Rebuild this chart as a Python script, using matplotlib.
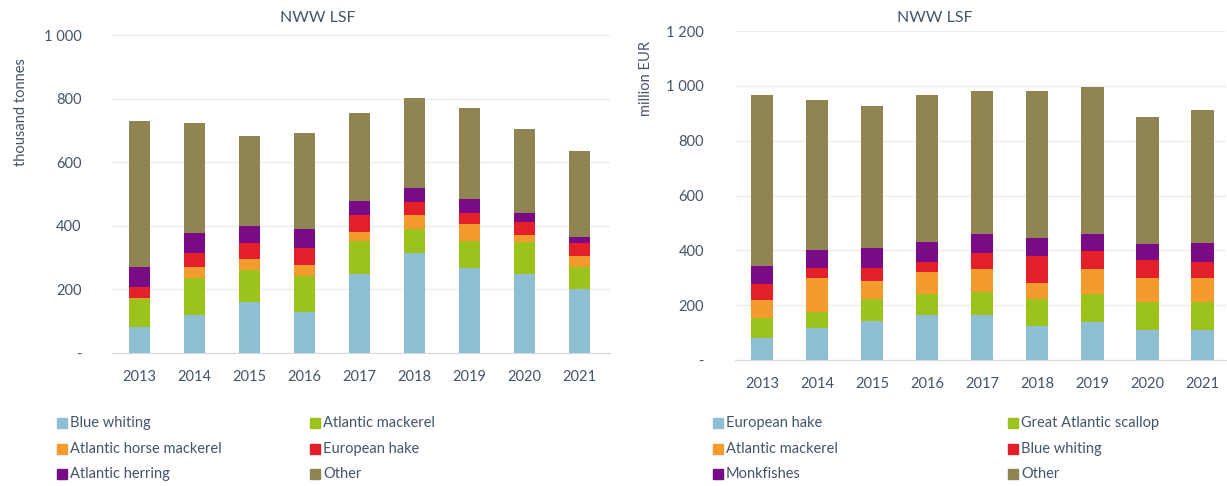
import matplotlib
matplotlib.use("Agg")
import matplotlib.pyplot as plt
from matplotlib.patches import Rectangle
from matplotlib.ticker import FuncFormatter
import numpy as np

plt.rcParams['font.family'] = ['Lato', 'DejaVu Sans']

years = ['2013', '2014', '2015', '2016', '2017', '2018', '2019', '2020', '2021']

# left chart: landings weight, thousand tonnes
w_names = ['Blue whiting', 'Atlantic mackerel', 'Atlantic horse mackerel',
           'European hake', 'Atlantic herring', 'Other']
w_blue_whiting = [83, 119, 159, 130, 248, 313, 266, 248, 201]
w_mackerel = [86, 118, 102, 112, 104, 76, 86, 100, 71]
w_horse_mackerel = [3, 35, 36, 35, 29, 45, 54, 23, 34]
w_hake = [34, 41, 48, 54, 53, 42, 33, 40, 39]
w_herring = [66, 63, 54, 58, 44, 42, 44, 30, 21]
w_other = [458, 348, 283, 304, 276, 283, 288, 263, 269]

# right chart: landings value, million EUR
v_names = ['European hake', 'Great Atlantic scallop', 'Atlantic mackerel',
           'Blue whiting', 'Monkfishes', 'Other']
v_hake = [81, 115, 143, 164, 164, 124, 137, 109, 109]
v_scallop = [71, 61, 78, 77, 83, 97, 104, 104, 104]
v_mackerel = [67, 122, 67, 81, 84, 61, 90, 85, 85]
v_blue_whiting = [57, 39, 49, 36, 60, 97, 68, 67, 60]
v_monkfish = [68, 64, 70, 73, 67, 65, 59, 57, 70]
v_other = [622, 547, 519, 535, 523, 537, 536, 463, 484]

colors = ['#8DBED3', '#9BC31C', '#F39B2C', '#E3202A', '#7A0A85', '#8F8452']
txt = '#44546A'


def fmt(v, pos):
    if v == 0:
        return '-'
    return '{:,.0f}'.format(v).replace(',', ' ')


def draw(ax, series, width, ymax, step, ylabel, label_xy):
    x = np.arange(len(years))
    bottom = np.zeros(len(years))
    for vals, c in zip(series, colors):
        ax.bar(x, vals, width, bottom=bottom, color=c, zorder=3)
        bottom += np.array(vals)
    ax.set_ylim(0, ymax)
    ax.set_yticks(np.arange(0, ymax + 1, step))
    ax.yaxis.set_major_formatter(FuncFormatter(fmt))
    ax.set_xticks(x)
    ax.set_xticklabels(years)
    ax.grid(axis='y', color='#EDEDED', lw=1, zorder=0)
    for s in ['top', 'right', 'left']:
        ax.spines[s].set_visible(False)
    ax.spines['bottom'].set_color('#D9D9D9')
    ax.tick_params(length=0, labelsize=10.5, colors=txt)
    ax.tick_params(axis='y', pad=22)
    ax.tick_params(axis='x', pad=12)
    ax.set_ylabel(ylabel, color=txt, fontsize=10.5)
    ax.yaxis.set_label_coords(*label_xy)


def legend(fig, names, x0, dx, y0, dy):
    for i, name in enumerate(names):
        row, col = divmod(i, 2)
        x = x0 + col * dx
        y = y0 - row * dy
        fig.patches.append(Rectangle((x / 1227, (y - 5) / 486), 10 / 1227, 10 / 486,
                                     transform=fig.transFigure, color=colors[i]))
        fig.text((x + 13) / 1227, y / 486, name, fontsize=10.5, color=txt, va='center')


fig = plt.figure(figsize=(12.27, 4.86), dpi=100)

ax1 = fig.add_axes([112 / 1227, 1 - 353 / 486, 498 / 1227, 318 / 486])
draw(ax1, [w_blue_whiting, w_mackerel, w_horse_mackerel, w_hake, w_herring, w_other],
     0.38, 1000, 200, 'thousand tonnes', (-0.169, 0.758))
ax1.set_xlim(-0.5, 8.55)
fig.text(318 / 1227, 1 - 18 / 486, 'NWW LSF', fontsize=11.5, color=txt, ha='center', va='center')

ax2 = fig.add_axes([734.5 / 1227, 1 - 360 / 486, 491.5 / 1227, 329 / 486])
draw(ax2, [v_hake, v_scallop, v_mackerel, v_blue_whiting, v_monkfish, v_other],
     0.41, 1200, 200, 'million EUR', (-0.166, 0.857))
ax2.set_xlim(-0.5, 8.43)
fig.text(935 / 1227, 1 - 18 / 486, 'NWW LSF', fontsize=11.5, color=txt, ha='center', va='center')

legend(fig, w_names, 57, 253, 486 - 423, 25.5)
legend(fig, v_names, 713, 295, 486 - 423, 25.5)

fig.savefig('out.png', dpi=100)
